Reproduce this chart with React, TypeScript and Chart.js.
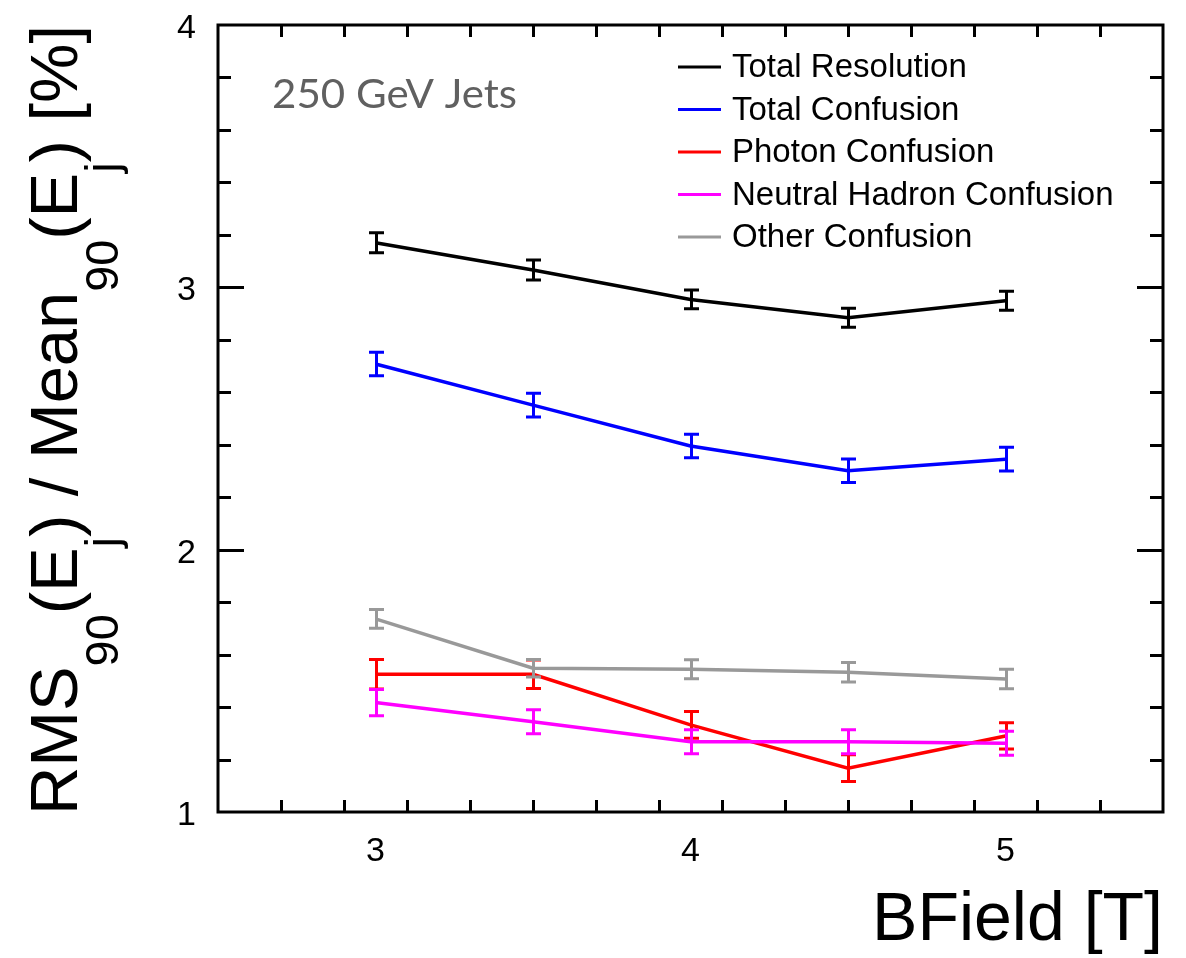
import React, { useEffect, useRef } from "react";
import { Chart, registerables } from "chart.js";

Chart.register(...registerables);

// Magnetic field values [T]
const bField = [3, 3.5, 4, 4.5, 5];

// Jet energy resolution contributions [%] with their uncertainties
const totalResolution = [3.17, 3.066, 2.954, 2.884, 2.949];
const totalResolutionErr = [0.038, 0.038, 0.036, 0.036, 0.036];
const totalConfusion = [2.708, 2.551, 2.395, 2.301, 2.345];
const totalConfusionErr = [0.045, 0.045, 0.045, 0.045, 0.045];
const photonConfusion = [1.525, 1.525, 1.332, 1.167, 1.29];
const photonConfusionErr = [0.056, 0.054, 0.051, 0.051, 0.05];
const neutralHadronConfusion = [1.417, 1.344, 1.268, 1.268, 1.262];
const neutralHadronConfusionErr = [0.05, 0.046, 0.046, 0.046, 0.046];
const otherConfusion = [1.736, 1.548, 1.544, 1.533, 1.507];
const otherConfusionErr = [0.036, 0.033, 0.036, 0.037, 0.037];

const seriesLabels = [
  "Total Resolution",
  "Total Confusion",
  "Photon Confusion",
  "Neutral Hadron Confusion",
  "Other Confusion",
];
const seriesColors = ["#000000", "#0000ff", "#ff0000", "#ff00ff", "#999999"];
const seriesValues = [
  totalResolution,
  totalConfusion,
  photonConfusion,
  neutralHadronConfusion,
  otherConfusion,
];
const seriesErrors = [
  totalResolutionErr,
  totalConfusionErr,
  photonConfusionErr,
  neutralHadronConfusionErr,
  otherConfusionErr,
];

// Axis ticks
const xMajorTicks = [3, 4, 5];
const yMajorTicks = [1, 2, 3, 4];
const xTickLabels = ["3", "4", "5"];
const yTickLabels = ["1", "2", "3", "4"];
const xMinorStep = 0.2;
const yMinorStep = 0.2;

const annotationText = "250 GeV Jets";
const xTitle = "BField [T]";

const FONT = "'Liberation Sans', Arial, Helvetica, sans-serif";

const rootStylePlugin = {
  id: "rootStyle",
  beforeDraw(chart: any) {
    const ctx = chart.ctx;
    ctx.save();
    ctx.fillStyle = "#ffffff";
    ctx.fillRect(0, 0, chart.width, chart.height);
    ctx.restore();
  },
  afterDatasetDraw(chart: any, args: any) {
    const i = args.index;
    const ctx = chart.ctx;
    const xs = chart.scales.x;
    const ys = chart.scales.y;
    const vals = seriesValues[i];
    const errs = seriesErrors[i];
    ctx.save();
    ctx.strokeStyle = seriesColors[i];
    ctx.lineWidth = 3;
    ctx.lineCap = "butt";
    for (let k = 0; k < bField.length; k++) {
      const px = Math.round(xs.getPixelForValue(bField[k])) + 0.5;
      const top = ys.getPixelForValue(vals[k] + errs[k]);
      const bot = ys.getPixelForValue(vals[k] - errs[k]);
      const cap = 7.5;
      ctx.beginPath();
      ctx.moveTo(px, top);
      ctx.lineTo(px, bot);
      ctx.moveTo(px - cap, top);
      ctx.lineTo(px + cap, top);
      ctx.moveTo(px - cap, bot);
      ctx.lineTo(px + cap, bot);
      ctx.stroke();
    }
    ctx.restore();
  },
  afterDraw(chart: any) {
    const ctx = chart.ctx;
    const area = chart.chartArea;
    const xs = chart.scales.x;
    const ys = chart.scales.y;
    ctx.save();

    // frame
    ctx.strokeStyle = "#000";
    ctx.lineWidth = 3;
    ctx.strokeRect(area.left, area.top, area.right - area.left, area.bottom - area.top);

    // inward ticks on all four sides
    const eps = 1e-6;
    ctx.beginPath();
    for (let v = xs.min; v <= xs.max + eps; v += xMinorStep) {
      const val = Math.round(v * 10) / 10;
      if (val <= xs.min + eps || val >= xs.max - eps) continue;
      const major = xMajorTicks.includes(val);
      const len = major ? 24 : 12;
      const px = Math.round(xs.getPixelForValue(val)) + 0.5;
      ctx.moveTo(px, area.bottom);
      ctx.lineTo(px, area.bottom - len);
      ctx.moveTo(px, area.top);
      ctx.lineTo(px, area.top + len);
    }
    for (let v = ys.min; v <= ys.max + eps; v += yMinorStep) {
      const val = Math.round(v * 10) / 10;
      if (val <= ys.min + eps || val >= ys.max - eps) continue;
      const major = yMajorTicks.includes(val);
      const len = major ? 26 : 13;
      const py = Math.round(ys.getPixelForValue(val)) + 0.5;
      ctx.moveTo(area.left, py);
      ctx.lineTo(area.left + len, py);
      ctx.moveTo(area.right, py);
      ctx.lineTo(area.right - len, py);
    }
    ctx.stroke();

    // tick labels
    ctx.fillStyle = "#000";
    ctx.font = `34px ${FONT}`;
    ctx.textAlign = "center";
    ctx.textBaseline = "alphabetic";
    xMajorTicks.forEach((v, idx) => {
      ctx.fillText(xTickLabels[idx], xs.getPixelForValue(v), 861);
    });
    ctx.textAlign = "right";
    yMajorTicks.forEach((v, idx) => {
      ctx.fillText(yTickLabels[idx], area.left - 22, ys.getPixelForValue(v) + 13);
    });

    // legend
    const legendTop = 67;
    const legendStep = 42.5;
    ctx.font = `33px ${FONT}`;
    ctx.textBaseline = "middle";
    ctx.textAlign = "left";
    for (let i = 0; i < seriesLabels.length; i++) {
      const y = legendTop + i * legendStep;
      ctx.strokeStyle = seriesColors[i];
      ctx.lineWidth = 3;
      ctx.beginPath();
      ctx.moveTo(678, y);
      ctx.lineTo(721, y);
      ctx.stroke();
      ctx.fillStyle = "#000";
      ctx.fillText(seriesLabels[i], 732, y + 1);
    }

    // annotation
    ctx.font = `40px Lato, 'Open Sans', sans-serif`;
    ctx.fillStyle = "#606060";
    ctx.textBaseline = "alphabetic";
    ctx.textAlign = "left";
    const aw = ctx.measureText(annotationText).width;
    ctx.save();
    ctx.translate(272, 108);
    ctx.scale(245 / aw, 1);
    ctx.fillText(annotationText, 0, 0);
    ctx.restore();

    // x title
    ctx.font = `68px ${FONT}`;
    ctx.fillStyle = "#000";
    ctx.textAlign = "right";
    ctx.textBaseline = "alphabetic";
    ctx.fillText(xTitle, area.right, 940);

    // y title with subscripts, rotated
    const fs = 66;
    const sub = fs * 0.7;
    const subDrop = fs * 0.62;
    const parts: [string, boolean][] = [
      ["RMS", false],
      ["90", true],
      ["(E", false],
      ["j", true],
      [") / Mean", false],
      ["90", true],
      ["(E", false],
      ["j", true],
      [") [%]", false],
    ];
    let total = 0;
    const widths: number[] = [];
    for (const [t, s] of parts) {
      ctx.font = `${s ? sub : fs}px ${FONT}`;
      const w = ctx.measureText(t).width;
      widths.push(w);
      total += w;
    }
    const targetLen = 790;
    const k = targetLen / total;
    ctx.save();
    ctx.translate(77, 815);
    ctx.rotate(-Math.PI / 2);
    ctx.scale(k, 1);
    ctx.textAlign = "left";
    let x = 0;
    parts.forEach(([t, s], idx) => {
      ctx.font = `${s ? sub : fs}px ${FONT}`;
      ctx.fillText(t, x, s ? subDrop : 0);
      x += widths[idx];
    });
    ctx.restore();

    ctx.restore();
  },
};

export default function App() {
  const canvasRef = useRef<HTMLCanvasElement | null>(null);

  useEffect(() => {
    const canvas = canvasRef.current;
    if (!canvas) return;
    const datasets = seriesLabels.map((label, i) => ({
      label,
      data: bField.map((b, k) => ({ x: b, y: seriesValues[i][k] })),
      borderColor: seriesColors[i],
      backgroundColor: seriesColors[i],
      borderWidth: 3.5,
      pointRadius: 0,
      tension: 0,
      fill: false,
      order: seriesLabels.length - i,
    }));
    const chart = new Chart(canvas, {
      type: "line",
      data: { datasets },
      options: {
        responsive: false,
        animation: false,
        events: [],
        layout: { padding: { top: 25, right: 23, left: 218, bottom: 146 } },
        plugins: {
          legend: { display: false },
          tooltip: { enabled: false },
          title: { display: false },
        },
        scales: {
          x: {
            type: "linear",
            display: false,
            min: 2.5,
            max: 5.5,
          },
          y: {
            type: "linear",
            display: false,
            min: 1,
            max: 4,
          },
        },
      },
      plugins: [rootStylePlugin],
    });
    return () => chart.destroy();
  }, []);

  return (
    <div style={{ position: "absolute", left: 0, top: 0, width: 1186, height: 958, background: "#fff" }}>
      <canvas ref={canvasRef} width={1186} height={958} style={{ display: "block" }} />
    </div>
  );
}
